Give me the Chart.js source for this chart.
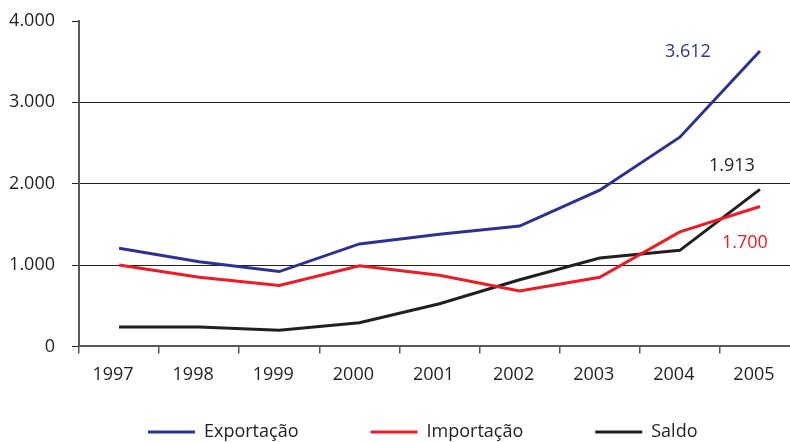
<!DOCTYPE html>
<html>
<head>
<meta charset="utf-8">
<script src="https://cdn.jsdelivr.net/npm/chart.js@4"></script>
<style>
  html, body { margin: 0; padding: 0; background: #fff; overflow: hidden; }
  #wrap { width: 801px; height: 442px; }
</style>
</head>
<body>
<div id="wrap"><canvas id="chart" width="801" height="442"></canvas></div>
<script>
// ---- Data ----
const years = ["1997", "1998", "1999", "2000", "2001", "2002", "2003", "2004", "2005"];
const exportacao = [1206, 1040, 920, 1260, 1378, 1480, 1920, 2572, 3630];
const importacao = [1000, 849, 750, 990, 874, 680, 849, 1407, 1720];
const saldo = [240, 238, 200, 290, 525, 820, 1087, 1181, 1930];
const yTicks = [0, 1000, 2000, 3000, 4000];
const endLabels = ["3.612", "1.700", "1.913"];

const BLUE = "#2E3192";
const RED = "#ED1C24";
const BLACK = "#231F20";
const FONT = "'Open Sans', 'Noto Sans', sans-serif";
const FSIZE = 18;

function fmt(v) {
    return v.toString().replace(/\B(?=(\d{3})+(?!\d))/g, ".");
}

// end-of-series value labels
const endLabelPlugin = {
    id: "endLabels",
    afterDatasetsDraw(chart) {
        const ctx = chart.ctx;
        const offsets = [[-72, 1], [-15, 36], [-28, -24]];
        ctx.save();
        ctx.font = FSIZE + "px " + FONT;
        ctx.textAlign = "center";
        ctx.textBaseline = "middle";
        chart.data.datasets.forEach((ds, i) => {
            const pts = chart.getDatasetMeta(i).data;
            const p = pts[pts.length - 1];
            ctx.fillStyle = ds.borderColor;
            ctx.fillText(endLabels[i], p.x + offsets[i][0], p.y + offsets[i][1]);
        });
        ctx.restore();
    }
};

// legend drawn as line + text
const legendPlugin = {
    id: "lineLegend",
    afterDraw(chart) {
        const ctx = chart.ctx;
        let x = 148;
        const y = 432;
        ctx.save();
        ctx.font = FSIZE + "px " + FONT;
        ctx.textBaseline = "middle";
        ctx.textAlign = "left";
        chart.data.datasets.forEach(ds => {
            ctx.strokeStyle = ds.borderColor;
            ctx.lineWidth = 3;
            ctx.beginPath();
            ctx.moveTo(x, y);
            ctx.lineTo(x + 47, y);
            ctx.stroke();
            ctx.fillStyle = BLACK;
            ctx.fillText(ds.label, x + 56, y);
            x += 56 + ctx.measureText(ds.label).width + 72;
        });
        ctx.restore();
    }
};

new Chart(document.getElementById("chart"), {
    type: "line",
    data: {
        labels: years,
        datasets: [
            { label: "Exportação", data: exportacao, borderColor: BLUE, backgroundColor: BLUE },
            { label: "Importação", data: importacao, borderColor: RED, backgroundColor: RED },
            { label: "Saldo", data: saldo, borderColor: BLACK, backgroundColor: BLACK }
        ]
    },
    options: {
        responsive: false,
        animation: false,
        devicePixelRatio: 1,
        layout: { padding: { top: 21, right: 1, bottom: 45, left: 0 } },
        elements: {
            line: { borderWidth: 3, tension: 0, borderJoinStyle: "miter" },
            point: { radius: 0, hoverRadius: 0 }
        },
        plugins: {
            legend: { display: false },
            tooltip: { enabled: false }
        },
        scales: {
            x: {
                offset: true,
                grid: { offset: true, drawOnChartArea: false, drawTicks: true, tickLength: 7, color: "#58595B", lineWidth: 1.5 },
                border: { color: "#58595B", width: 2 },
                ticks: { color: BLACK, font: { family: FONT, size: FSIZE }, padding: 11, labelOffset: -6, maxRotation: 0 }
            },
            y: {
                min: 0,
                max: 4000,
                afterFit(scale) { scale.width = 79; scale.paddingTop = 0; },
                afterBuildTicks(scale) { scale.ticks = yTicks.map(v => ({ value: v })); },
                grid: {
                    color: ctx => (ctx.tick && (ctx.tick.value === 0 || ctx.tick.value === 4000)) ? "rgba(0,0,0,0)" : BLACK,
                    tickColor: BLACK,
                    lineWidth: 1,
                    tickLength: 7
                },
                border: { color: "#58595B", width: 2 },
                ticks: { color: BLACK, font: { family: FONT, size: FSIZE }, padding: 17, callback: v => fmt(v) }
            }
        }
    },
    plugins: [endLabelPlugin, legendPlugin]
});
</script>
</body>
</html>
